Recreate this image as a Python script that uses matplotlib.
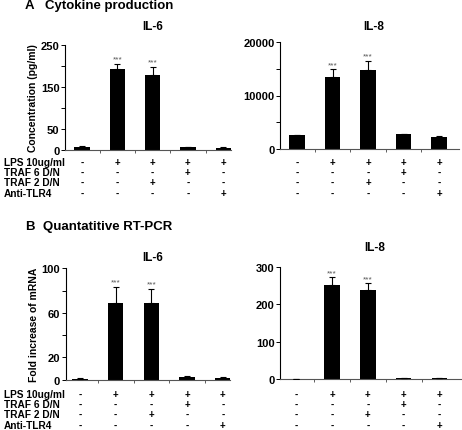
import matplotlib
matplotlib.use('Agg')
import matplotlib.pyplot as plt
import matplotlib.transforms as mtransforms
import numpy as np

plt.rcParams['font.family'] = ['Liberation Sans', 'DejaVu Sans']

W, H = 462, 431

# data
row_labels = ['LPS 10ug/ml', 'TRAF 6 D/N', 'TRAF 2 D/N', 'Anti-TLR4']
signs = [
    ['-', '+', '+', '+', '+'],
    ['-', '-', '-', '+', '-'],
    ['-', '-', '+', '-', '-'],
    ['-', '-', '-', '-', '+'],
]

a_il6 = [8, 193, 178, 6, 5]
a_il6_err = [1, 12, 20, 1, 1]
a_il8 = [2600, 13500, 14800, 2750, 2300]
a_il8_err = [100, 1400, 1700, 120, 120]
b_il6 = [1, 68.5, 68.5, 2.5, 1.5]
b_il6_err = [0.3, 15, 13, 0.8, 0.5]
b_il8 = [1, 252, 237, 3, 1.5]
b_il8_err = [0.3, 20, 19, 1, 0.5]
stars = ['', '***', '***', '', '']


def px_axes(left, right, top, bottom):
    return fig.add_axes([left / W, 1 - bottom / H, (right - left) / W, (bottom - top) / H])


def draw(ax, vals, errs, ylim, ticks, labels, xlim, title, title_y, star_pad):
    x = np.arange(len(vals))
    ax.bar(x, vals, width=0.43, color='black', zorder=2)
    ax.errorbar(x, vals, yerr=[np.zeros(len(errs)), errs], fmt='none',
                ecolor='black', elinewidth=0.8, capsize=2, capthick=0.8, zorder=3)
    for xi, v, e, s in zip(x, vals, errs, stars):
        if s:
            ax.text(xi, v + e + star_pad * ylim, s, ha='center', va='bottom',
                    fontsize=6, color='#555555')
    ax.set_xlim(*xlim)
    ax.set_ylim(0, ylim)
    ax.set_yticks(ticks)
    ax.set_yticklabels(labels, fontsize=8, fontweight='bold')
    ax.set_xticks(np.arange(len(vals) - 1) + 0.5)
    ax.set_xticklabels([])
    ax.tick_params(axis='x', length=2, width=0.6, color='#444444')
    ax.tick_params(axis='y', length=3, width=0.7, pad=1)
    for sp in ['top', 'right']:
        ax.spines[sp].set_visible(False)
    ax.spines['left'].set_linewidth(0.8)
    ax.spines['bottom'].set_linewidth(0.8)
    ax.spines['bottom'].set_color('#555555')
    fig.text((ax.get_position().x0 + ax.get_position().x1) / 2 + 0.01, 1 - title_y / H,
             title, ha='center', va='center', fontsize=8.5, fontweight='bold')


def sign_table(ax, rows_y, with_labels):
    tr = mtransforms.blended_transform_factory(ax.transData, fig.transFigure)
    for r, yy in enumerate(rows_y):
        if with_labels:
            fig.text(4 / W, 1 - yy / H, row_labels[r], ha='left', va='center',
                     fontsize=7.3, fontweight='bold')
        for c, s in enumerate(signs[r]):
            ax.text(c, 1 - yy / H, s, transform=tr, ha='center', va='center',
                    fontsize=7, fontweight='bold')


fig = plt.figure(figsize=(W / 100, H / 100), dpi=100)

ax1 = px_axes(65, 231, 45.7, 151)
draw(ax1, a_il6, a_il6_err, 250, [0, 50, 100, 150, 200, 250],
     ['0', '50', '', '150', '', '250'], (-0.48, 4.22), 'IL-6', 27, 0.01)
ax2 = px_axes(280, 459, 43, 150)
draw(ax2, a_il8, a_il8_err, 20000, [0, 5000, 10000, 15000, 20000],
     ['0', '', '10000', '', '20000'], (-0.48, 4.56), 'IL-8', 27, 0.01)
ax3 = px_axes(65.7, 230, 269.3, 380.7)
draw(ax3, b_il6, b_il6_err, 100, [0, 20, 40, 60, 80, 100],
     ['0', '20', '', '60', '', '100'], (-0.4, 4.2), 'IL-6', 258, 0.01)
ax4 = px_axes(280, 461, 267.7, 380)
draw(ax4, b_il8, b_il8_err, 300, [0, 100, 200, 300],
     ['0', '100', '200', '300'], (-0.45, 4.6), 'IL-8', 248, 0.01)

ax1.set_ylabel('Concentration (pg/ml)', fontsize=7.5, fontweight='bold', labelpad=2)
ax3.set_ylabel('Fold increase of mRNA', fontsize=7.5, fontweight='bold', labelpad=2)

sign_table(ax1, [163, 173, 183, 194], True)
sign_table(ax2, [163, 173, 183, 194], False)
sign_table(ax3, [395, 405, 415, 426], True)
sign_table(ax4, [395, 405, 415, 426], False)

fig.text(25 / W, 1 - 6 / H, 'A', ha='left', va='center', fontsize=9.5, fontweight='bold')
fig.text(45 / W, 1 - 6 / H, 'Cytokine production', ha='left', va='center', fontsize=9.5,
         fontweight='bold')
fig.text(25 / W, 1 - 227 / H, 'B', ha='left', va='center', fontsize=9.5, fontweight='bold')
fig.text(43 / W, 1 - 227 / H, 'Quantatitive RT-PCR', ha='left', va='center', fontsize=9.5,
         fontweight='bold')

fig.savefig('out.png', dpi=100)
